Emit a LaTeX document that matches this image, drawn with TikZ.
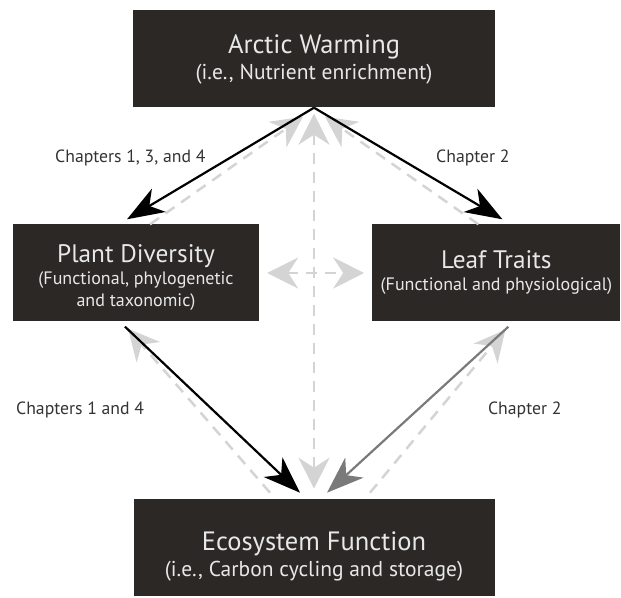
\documentclass[tikz,border=0pt]{standalone}
\usepackage{fontspec}
\setmainfont{PT Sans}
\usetikzlibrary{arrows.meta,positioning}

\definecolor{boxdark}{HTML}{2B2826}
\definecolor{boxtext}{HTML}{E8E8E8}
\definecolor{midgray}{HTML}{7A7A7A}
\definecolor{lightgray}{HTML}{D4D4D4}

\newcommand{\headline}[1]{\fontsize{26.5}{25}\selectfont #1}
\newcommand{\midline}[1]{\fontsize{25.3}{22}\selectfont #1}

\begin{document}
\begin{tikzpicture}[x=1pt,y=1pt,
    box/.style={rectangle,fill=boxdark,text=boxtext,align=center,inner sep=0pt,minimum height=97pt},
    outer/.style={box,font=\fontsize{21.5}{26}\selectfont},
    inner/.style={box,font=\fontsize{18}{22}\selectfont},
    linktip/.tip={Stealth[length=37pt,width=27pt,inset=11pt]},
    link/.style={line width=2.2pt,-linktip},
    back/.style={lightgray,line width=2.5pt,dash pattern=on 11pt off 8pt},
    backtip/.tip={Stealth[length=31pt,width=31pt,inset=10pt]},
    chapter/.style={font=\fontsize{17.7}{20}\selectfont,text=black!80}]
  \useasboundingbox (0,0) rectangle (621,597);

  \node[outer,minimum width=362pt] (warm)  at (314,538)
      {\headline{Arctic Warming}\\(i.e., Nutrient enrichment)};
  \node[inner,minimum width=246pt] (plant) at (136,324)
      {\midline{\rule{0pt}{26pt}Plant Diversity}\\(Functional, phylogenetic\\and taxonomic)};
  \node[inner,minimum width=248pt] (leaf)  [right=113pt of plant]
      {\midline{Leaf Traits}\\(Functional and physiological)};
  \node[outer,minimum width=361pt] (eco)   [below=391pt of warm]
      {\headline{\rule{0pt}{37pt}Ecosystem Function}\\(i.e., Carbon cycling and storage)};

  % feedback paths (dashed, behind)
  \draw[back,-backtip] ([xshift=14pt]plant.north) -- ([xshift=-11pt,yshift=-9pt]warm.south);
  \draw[back,-backtip] ([xshift=-18pt]leaf.north) -- ([xshift=11pt,yshift=-9pt]warm.south);
  \draw[back,backtip-backtip] ([yshift=-6pt]warm.south) -- ([yshift=10pt]eco.north);
  \draw[back,backtip-backtip] ([xshift=8pt]plant.east) -- ([xshift=-8pt]leaf.west);
  \draw[back,-backtip] ([xshift=-44pt,yshift=6pt]eco.north) -- ([xshift=-8pt,yshift=-7pt]plant.south);
  \draw[back,-backtip] ([xshift=56pt,yshift=6pt]eco.north) -- ([xshift=9pt,yshift=-8pt]leaf.south);

  % chapter paths
  \draw[link] (warm.south) -- node[chapter,pos=0.45,left=20pt] {Chapters 1, 3, and 4}
                   ([xshift=-9pt,yshift=5pt]plant.north);
  \draw[link] (warm.south) -- node[chapter,pos=0.45,right=33pt] {Chapter 2}
                   ([xshift=6pt,yshift=5pt]leaf.north);
  \draw[link] ([xshift=-11pt,yshift=-5pt]plant.south) -- node[chapter,midway,left=64pt] {Chapters 1 and 4}
                   ([xshift=-14pt,yshift=6pt]eco.north);
  \draw[link,midgray] ([xshift=12pt,yshift=-5pt]leaf.south) -- node[chapter,midway,right=66pt] {Chapter 2}
                   ([xshift=13pt,yshift=6pt]eco.north);
\end{tikzpicture}
\end{document}
